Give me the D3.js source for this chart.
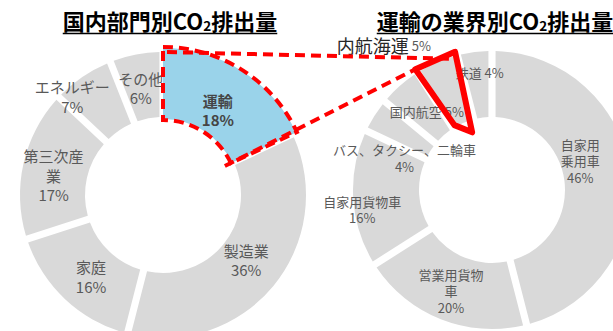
<!DOCTYPE html>
<html>
<head>
<meta charset="utf-8">
<script src="https://cdn.jsdelivr.net/npm/d3@7"></script>
<style>
  body { margin: 0; background: #fff; }
  svg { display: block; font-family: "Noto Sans CJK JP", "Noto Sans", sans-serif; }
</style>
</head>
<body>
<div id="chart"></div>
<script>
// left donut: domestic CO2 by sector (%)
const sectorNames = ["運輸", "製造業", "家庭", "第三次産業", "エネルギー", "その他"];
const sectorShares = [18, 36, 16, 17, 7, 6];
const sectorLines = [["運輸"], ["製造業"], ["家庭"], ["第三次産", "業"], ["エネルギー"], ["その他"]];

// right donut: transport CO2 by mode (%)
const modeNames = ["自家用乗用車", "営業用貨物車", "自家用貨物車", "バス、タクシー、二輪車", "国内航空", "内航海運", "鉄道"];
const modeShares = [46, 20, 16, 4, 5, 5, 4];
const modeLines = [["自家用", "乗用車"], ["営業用貨物", "車"], ["自家用貨物車"], ["バス、タクシー、二輪車"], ["国内航空"], ["内航海運"], ["鉄道"]];

const titles = ["国内部門別CO", "運輸の業界別CO"];

const width = 613, height = 331;
const grey = "#d9d9d9", blue = "#9ad3ea", red = "#ff0000", textCol = "#595959";

const svg = d3.select("#chart").append("svg")
  .attr("width", width)
  .attr("height", height);

const pie = d3.pie().sort(null).value(d => d);

// helper for a point on a circle, angle 0 at top going clockwise
function pt(c, r, a) {
  return [c.x + r * Math.sin(a), c.y - r * Math.cos(a)];
}

// ---------- left donut ----------
const L = { x: 163, y: 195, R: 143, r: 78 };
const leftArcs = pie(sectorShares);
const leftArc = d3.arc().innerRadius(L.r).outerRadius(L.R).padAngle(5 / 115);
const bigArc = d3.arc().innerRadius(L.r - 2).outerRadius(L.R + 4);

const gL = svg.append("g").attr("transform", `translate(${L.x},${L.y})`);
gL.selectAll("path")
  .data(leftArcs)
  .join("path")
  .attr("d", (d, i) => i === 0 ? bigArc(d) : leftArc(d))
  .attr("fill", (d, i) => i === 0 ? blue : grey);

// ---------- right donut ----------
const Rt = { x: 492, y: 190, R: 139, r: 73 };
const rightArcs = pie(modeShares);
const rightArc = d3.arc().innerRadius(Rt.r).outerRadius(Rt.R).padAngle(5 / 110);

const gR = svg.append("g").attr("transform", `translate(${Rt.x},${Rt.y})`);
gR.selectAll("path")
  .data(rightArcs)
  .join("path")
  .attr("d", rightArc)
  .attr("fill", grey);

// ---------- labels ----------
// nudges away from the ring centroid, like the hand placed labels in the source
const leftNudge = [[-3, 6], [0, -4], [2, 3], [-4, 4], [-30, -9], [-2, -1]];
const rightNudge = [[-17, -16], [-2, 2], [-24, 13], [2, 25], [5, 0], [-66, -48], [1, -13]];
const rightInline = [false, false, false, false, true, true, true];

function blockLabel(g, arcs, lines, shares, nudge, lr, fs, lh, boldFirst) {
  arcs.forEach((d, i) => {
    const a = (d.startAngle + d.endAngle) / 2;
    const [x, y] = pt({ x: 0, y: 0 }, lr, a);
    const cx = x + nudge[i][0], cy = y + nudge[i][1];
    const rows = lines[i].concat([shares[i] + "%"]);
    const t = g.append("text")
      .attr("text-anchor", "middle")
      .attr("font-size", fs)
      .attr("fill", textCol);
    rows.forEach((s, k) => {
      t.append("tspan")
        .attr("x", cx)
        .attr("y", cy + (k - (rows.length - 1) / 2) * lh)
        .attr("dominant-baseline", "central")
        .attr("font-weight", boldFirst && i === 0 ? "bold" : null)
        .attr("fill", boldFirst && i === 0 ? "#454545" : null)
        .text(s);
    });
  });
}

blockLabel(gL, leftArcs, sectorLines, sectorShares, leftNudge, 108, 15, 19.5, true);

// right labels: some are stacked, some are "name  n%" on one line
rightArcs.forEach((d, i) => {
  if (!rightInline[i]) return;
  const a = (d.startAngle + d.endAngle) / 2;
  const [x, y] = pt({ x: 0, y: 0 }, 106, a);
  const big = i === 5;
  const t = gR.append("text")
    .attr("x", x + rightNudge[i][0])
    .attr("y", y + rightNudge[i][1])
    .attr("dominant-baseline", "central")
    .attr("text-anchor", "middle")
    .attr("fill", textCol);
  t.append("tspan")
    .attr("font-size", big ? 18 : 13)
    .attr("fill", big ? "#262626" : null)
    .text(modeLines[i][0]);
  t.append("tspan")
    .attr("font-size", 13)
    .text(" " + modeShares[i] + "%");
});

blockLabel(gR, rightArcs.filter((d, i) => !rightInline[i]),
  modeLines.filter((d, i) => !rightInline[i]),
  modeShares.filter((d, i) => !rightInline[i]),
  rightNudge.filter((d, i) => !rightInline[i]), 106, 13, 16.5, false);

// ---------- highlight: dashed outline and connectors ----------
const hl = leftArcs[0];
const outlineArc = d3.arc().innerRadius(L.r - 3).outerRadius(L.R + 5);
gL.append("path")
  .attr("d", outlineArc(hl))
  .attr("fill", "none")
  .attr("stroke", red)
  .attr("stroke-width", 4)
  .attr("stroke-dasharray", "10,6");

const sea = rightArcs[5];
const seaOuterA = pt(Rt, Rt.R + 4, sea.startAngle);
const seaOuterB = pt(Rt, Rt.R + 4, sea.endAngle - 0.01);
const seaInnerB = pt(Rt, Rt.r - 12, sea.endAngle - 0.08);
const seaInnerA = pt(Rt, Rt.r + 2, sea.startAngle + 0.04);

const topStart = pt(L, L.R + 3, hl.startAngle);
const lowStart = pt(L, L.r - 3, hl.endAngle);

svg.append("line")
  .attr("x1", topStart[0] + 4).attr("y1", topStart[1] + 3)
  .attr("x2", seaOuterB[0]).attr("y2", seaOuterB[1] + 7)
  .attr("stroke", red).attr("stroke-width", 4).attr("stroke-dasharray", "10,6");

svg.append("line")
  .attr("x1", lowStart[0] - 6).attr("y1", lowStart[1] + 3)
  .attr("x2", seaOuterA[0]).attr("y2", seaOuterA[1])
  .attr("stroke", red).attr("stroke-width", 4).attr("stroke-dasharray", "10,6");

// thick solid box round the 内航海運 slice
svg.append("path")
  .attr("d", d3.line()([seaOuterB, seaOuterA, seaInnerA, seaInnerB]) + "Z")
  .attr("fill", "none")
  .attr("stroke", red)
  .attr("stroke-width", 6)
  .attr("stroke-linejoin", "round");

// ---------- titles ----------
const titleX = [170, 495];
titles.forEach((s, i) => {
  const t = svg.append("text")
    .attr("x", titleX[i])
    .attr("y", 30)
    .attr("text-anchor", "middle")
    .attr("font-size", 22)
    .attr("font-weight", "bold")
    .attr("fill", "#000");
  t.append("tspan").text(s);
  t.append("tspan").attr("font-size", 13.5).attr("dy", 1).text("2");
  t.append("tspan").attr("dy", -1).text("排出量");
  const bb = t.node().getBBox();
  svg.append("line")
    .attr("x1", bb.x).attr("x2", bb.x + bb.width)
    .attr("y1", 33.5).attr("y2", 33.5)
    .attr("stroke", "#000").attr("stroke-width", 1.5);
});
</script>
</body>
</html>
